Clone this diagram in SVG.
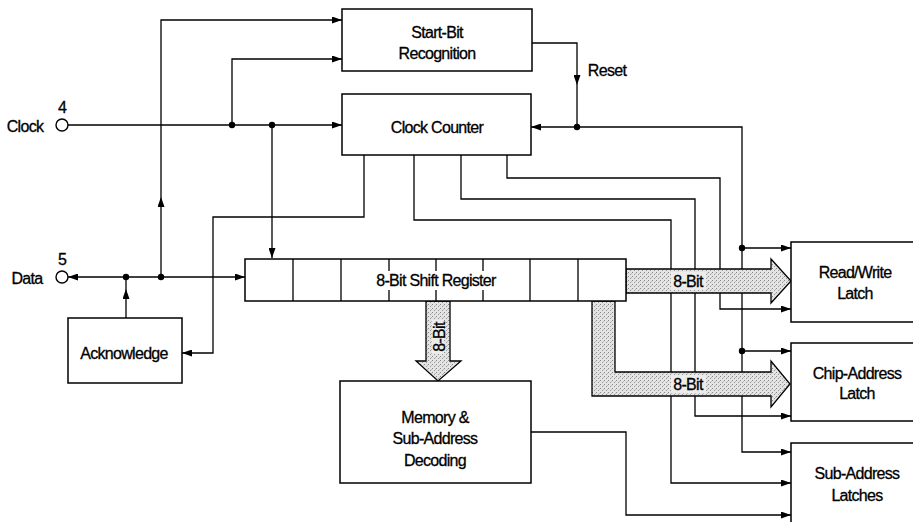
<svg xmlns="http://www.w3.org/2000/svg" width="913" height="522" viewBox="0 0 913 522">
<style>
text{font-family:"Liberation Sans",Arial,sans-serif;font-size:16px;letter-spacing:-0.7px;fill:#000;stroke:#000;stroke-width:0.3px;text-anchor:middle;dominant-baseline:central}
.box{fill:#fff;stroke:#000;stroke-width:1.5}
.ln{fill:none;stroke:#000;stroke-width:1.3}
.ar{marker-end:url(#ah)}
.bus{fill:url(#stip);stroke:#000;stroke-width:1.3}
.dot{fill:#000}
.pin{fill:#fff;stroke:#000;stroke-width:1.4}
.halo{fill:#ececec;stroke:none}
</style>
<defs>
<marker id="ah" viewBox="0 0 10 7" refX="10" refY="3.5" markerWidth="10" markerHeight="7" markerUnits="userSpaceOnUse" orient="auto">
<path d="M0,0 L10,3.5 L0,7 z" fill="#000"/>
</marker>
<pattern id="stip" width="4" height="4" patternUnits="userSpaceOnUse">
<rect width="4" height="4" fill="#e4e4e4"/>
<rect x="0" y="0" width="1" height="1" fill="#888"/>
<rect x="2" y="2" width="1" height="1" fill="#999"/>
<rect x="3" y="1" width="1" height="1" fill="#bbb"/>
</pattern>
</defs>
<rect width="913" height="522" fill="#fff"/>

<g id="connectors">
<path class="ln ar" d="M68,125 H342"/>
<path class="ln ar" d="M232,125 V59 H342"/>
<path class="ln ar" d="M272,125 V258"/>
<path class="ln ar" d="M126,277 H68"/>
<path class="ln ar" d="M126,277 H245"/>
<path class="ln ar" d="M161,277 V197"/>
<path class="ln ar" d="M161,197 V20 H342"/>
<path class="ln ar" d="M126,318 V289"/>
<path class="ln" d="M126,289 V277"/>
<path class="ln ar" d="M364,155 V217 H213 V353 H182"/>
<path class="ln ar" d="M532,43 H577 V85"/>
<path class="ln" d="M577,85 V127"/>
<path class="ln ar" d="M577,127 H531"/>
<path class="ln ar" d="M577,127 H742 V452 H791"/>
<path class="ln ar" d="M742,248 H791"/>
<path class="ln ar" d="M742,351 H791"/>
<path class="ln ar" d="M507,155 V178 H720 V309 H791"/>
<path class="ln ar" d="M461,155 V199 H695 V416 H791"/>
<path class="ln ar" d="M414,155 V220 H671 V483 H791"/>
<path class="ln ar" d="M531,432 H626 V515 H791"/>
</g>

<g id="buses">
<polygon class="bus" points="426,301 450,301 450,361 461,361 438,381 416,361 426,361"/>
<rect class="halo" x="432" y="320" width="12" height="34"/>
<text transform="translate(439,337) rotate(-90)">8-Bit</text>
<polygon class="bus" points="626,269 771,269 771,259 791,281 771,303 771,293 626,293"/>
<rect class="halo" x="671" y="272" width="35" height="18"/>
<text x="688" y="281">8-Bit</text>
<polygon class="bus" points="592,301 615,301 615,372 771,372 771,361 790,384 771,407 771,396 592,396"/>
<rect class="halo" x="671" y="375" width="35" height="18"/>
<text x="688" y="384">8-Bit</text>
</g>

<g id="clock-pin">
<circle class="pin" cx="62" cy="125" r="6"/>
<text x="25" y="126">Clock</text>
<text x="62" y="107">4</text>
</g>
<g id="data-pin">
<circle class="pin" cx="62" cy="277" r="6"/>
<text x="27" y="278">Data</text>
<text x="62" y="259">5</text>
</g>

<g id="start-bit">
<rect class="box" x="342" y="9" width="190" height="62"/>
<text x="437" y="32">Start-Bit</text>
<text x="437" y="53">Recognition</text>
</g>
<text x="607" y="70">Reset</text>

<g id="clock-counter">
<rect class="box" x="342" y="94" width="189" height="61"/>
<text x="437" y="127">Clock Counter</text>
</g>

<g id="shift-register">
<rect class="box" x="245" y="259" width="381" height="42"/>
<path class="ln" d="M293,259 V301 M341,259 V301 M530,259 V301 M578,259 V301 M389,259 V271 M389,290 V301 M436,259 V271 M436,290 V301 M483,259 V271 M483,290 V301"/>
<text x="436" y="280">8-Bit Shift Register</text>
</g>

<g id="acknowledge">
<rect class="box" x="68" y="318" width="114" height="65"/>
<text x="124" y="353">Acknowledge</text>
</g>

<g id="memory">
<rect class="box" x="340" y="381" width="191" height="102"/>
<text x="435" y="417">Memory &amp;</text>
<text x="435" y="438">Sub-Address</text>
<text x="435" y="460">Decoding</text>
</g>

<g id="read-write-latch">
<rect class="box" x="791" y="242" width="130" height="80"/>
<text x="855" y="272">Read/Write</text>
<text x="855" y="293">Latch</text>
</g>

<g id="chip-address-latch">
<rect class="box" x="791" y="343" width="130" height="78"/>
<text x="857" y="373">Chip-Address</text>
<text x="857" y="393">Latch</text>
</g>

<g id="sub-address-latches">
<rect class="box" x="791" y="443" width="130" height="95"/>
<text x="857" y="473">Sub-Address</text>
<text x="857" y="495">Latches</text>
</g>

<g id="junctions">
<circle class="dot" cx="232" cy="125" r="3.2"/>
<circle class="dot" cx="272" cy="125" r="3.2"/>
<circle class="dot" cx="126" cy="277" r="3.2"/>
<circle class="dot" cx="161" cy="277" r="3.2"/>
<circle class="dot" cx="577" cy="127" r="3.2"/>
<circle class="dot" cx="742" cy="248" r="3.2"/>
<circle class="dot" cx="742" cy="351" r="3.2"/>
</g>
</svg>
